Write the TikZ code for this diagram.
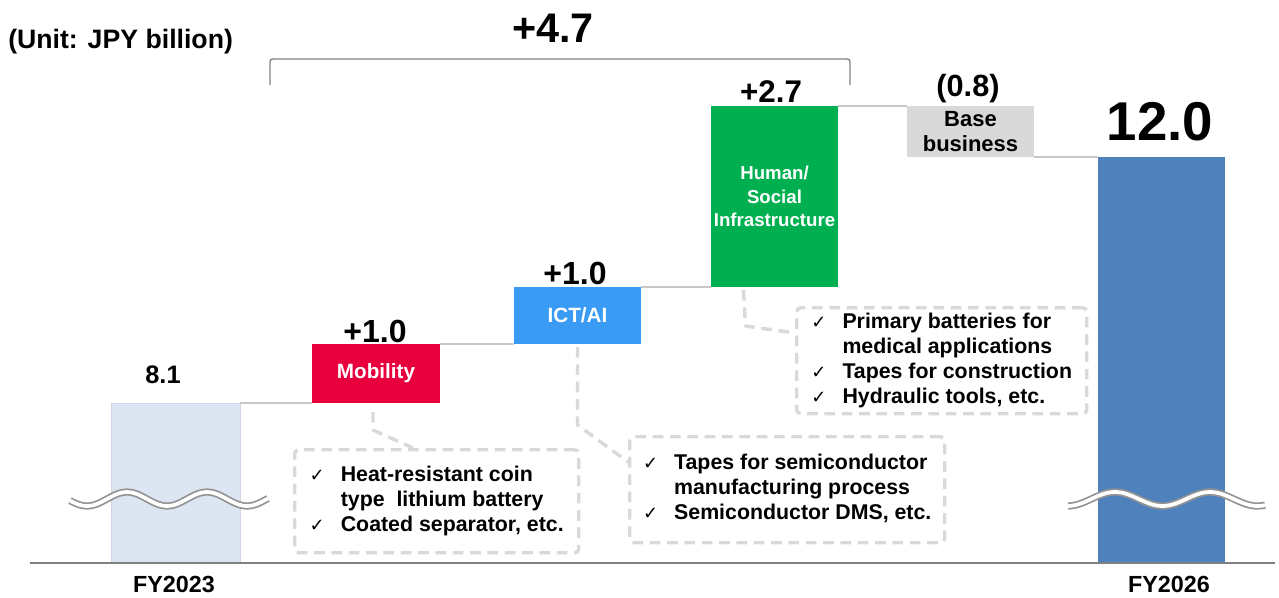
\documentclass[tikz,border=0pt]{standalone}
\usepackage{fontspec}
\setmainfont{Liberation Sans}
\newfontfamily\symfont{DejaVu Sans}
\usetikzlibrary{positioning}
\definecolor{fyone}{RGB}{220,230,242}
\definecolor{fyoneedge}{RGB}{205,214,228}
\definecolor{mobred}{RGB}{232,0,62}
\definecolor{ictblue}{RGB}{58,155,245}
\definecolor{humgreen}{RGB}{0,176,80}
\definecolor{basegray}{RGB}{217,217,217}
\definecolor{fytwo}{RGB}{79,129,189}
\definecolor{dashgray}{RGB}{217,217,217}
\definecolor{linkgray}{RGB}{200,200,200}
\def\px{0.75pt}
\newcommand\ck{{\symfont\mdseries\fontsize{13.5}{14}\selectfont ✓}}
\tikzset{
  bar/.style={anchor=north west, inner sep=0pt, outer sep=0pt, text=white,
    font=\bfseries\fontsize{15.5}{19}\selectfont, align=center},
  link/.style={draw=linkgray, line width=0.9pt},
  lead/.style={draw=dashgray, line width=2.6pt, dash pattern=on 8pt off 5pt},
  note/.style={draw=dashgray, line width=2.6pt, dash pattern=on 8pt off 5pt,
    rounded corners=3pt, anchor=north west, inner sep=0pt,
    font=\bfseries\fontsize{16}{18.75}\selectfont},
  val/.style={font=\bfseries\fontsize{24}{27}\selectfont, inner sep=0pt},
  axislab/.style={font=\bfseries\fontsize{17.5}{20}\selectfont, inner sep=0pt},
  wave/.style={draw=gray!85, double=white, double distance=2.8pt, line width=1.3pt},
}
\begin{document}
\begin{tikzpicture}[x=0.75pt, y=-0.75pt, line join=round]
\useasboundingbox (0,0) rectangle (1279,597);
% bars
\node[bar, fill=fyone, draw=fyoneedge, line width=0.5pt, minimum width=129*\px, minimum height=160*\px] (fy23) at (111,403) {};
\node[bar, fill=mobred, minimum width=128*\px, minimum height=59*\px] (mob) at (312,344) {Mobility};
\node[bar, fill=ictblue, minimum width=127*\px, minimum height=57*\px] (ict) at (514,287) {ICT/AI};
\node[bar, fill=humgreen, minimum width=127*\px, minimum height=181*\px, font=\bfseries\fontsize{14}{17.5}\selectfont] (hum) at (711,106) {Human/\\Social\\Infrastructure};
\node[bar, fill=basegray, text=black, minimum width=127*\px, minimum height=51*\px, font=\bfseries\fontsize{16.5}{19}\selectfont] (base) at (907,106) {Base\\business};
\node[bar, fill=fytwo, minimum width=127*\px, minimum height=406*\px] (fy26) at (1098,157) {};
% steps
\draw[link] (fy23.north east) -- (mob.south west);
\draw[link] (mob.north east) -- (ict.south west);
\draw[link] (ict.north east) -- (hum.south west);
\draw[link] (hum.north east) -- (base.north west);
\draw[link] (base.south east) -- (fy26.north west);
% breaks
\draw[wave, smooth, samples=60, domain=70:268] plot (\x,{499-7*sin((\x-107)*4.5)});
\draw[wave, smooth, samples=60, domain=1068:1265] plot (\x,{499-7*sin((\x-1091.25)*3.79)});
\draw[gray, line width=1.5pt] (30,563) -- (1275,563);
% values
\node[font=\bfseries\fontsize{20}{23}\selectfont, anchor=west, inner sep=0pt] (unit) at (8,42) {(Unit: JPY billion)};
\node[val, font=\bfseries\fontsize{31}{34}\selectfont] (vtot) at (553,28) {+4.7};
\draw[gray, line width=1pt, rounded corners=2pt] (270,85) -- (270,59) -- (850,59) -- (850,85);
\node[val, font=\bfseries\fontsize{19}{22}\selectfont] (v23) at (163,375) {8.1};
\node[val] (vmob) at (375,331) {+1.0};
\node[val] (vict) at (575,273) {+1.0};
\node[val, font=\bfseries\fontsize{23.5}{27}\selectfont] (vhum) at (771,92) {+2.7};
\node[val, font=\bfseries\fontsize{23}{27}\selectfont] (vbase) at (968,89) {(0.8)};
\node[val, font=\bfseries\fontsize{41}{45}\selectfont] (v26) at (1160,122) {12.0};
\node[axislab] (lab23) at (174,584) {FY2023};
\node[axislab] (lab26) at (1169,584) {FY2026};
% notes
\node[note, minimum width=284*\px, minimum height=103*\px] (mobnote) at (293,448)
  {\begin{tabular}{@{}l@{\hspace{12pt}}l@{}}\ck & Heat-resistant coin\\ & type\ \ lithium battery\\ \ck & Coated separator, etc.\end{tabular}};
\node[note, minimum width=315*\px, minimum height=106*\px] (ictnote) at (628,435)
  {\begin{tabular}{@{}l@{\hspace{12pt}}l@{}}\ck & Tapes for semiconductor\\ & manufacturing process\\ \ck & Semiconductor DMS, etc.\end{tabular}};
\node[note, minimum width=290*\px, minimum height=106*\px] (humnote) at (795,306)
  {\begin{tabular}{@{}l@{\hspace{12pt}}l@{}}\ck & Primary batteries for\\ & medical applications\\ \ck & Tapes for construction\\ \ck & Hydraulic tools, etc.\end{tabular}};
\draw[lead] ([xshift=-3*\px, yshift=-9*\px]mob.south) -- ++(0,18) -- ([xshift=120*\px]mobnote.north west);
\draw[lead] ([yshift=-3*\px]ict.south) -- ++(0,78) -- ([yshift=-27*\px]ictnote.north west);
\draw[lead] ([xshift=-31*\px, yshift=-3*\px]hum.south) -- ++(2,36) -- ([yshift=-27*\px]humnote.north west);
\end{tikzpicture}
\end{document}
